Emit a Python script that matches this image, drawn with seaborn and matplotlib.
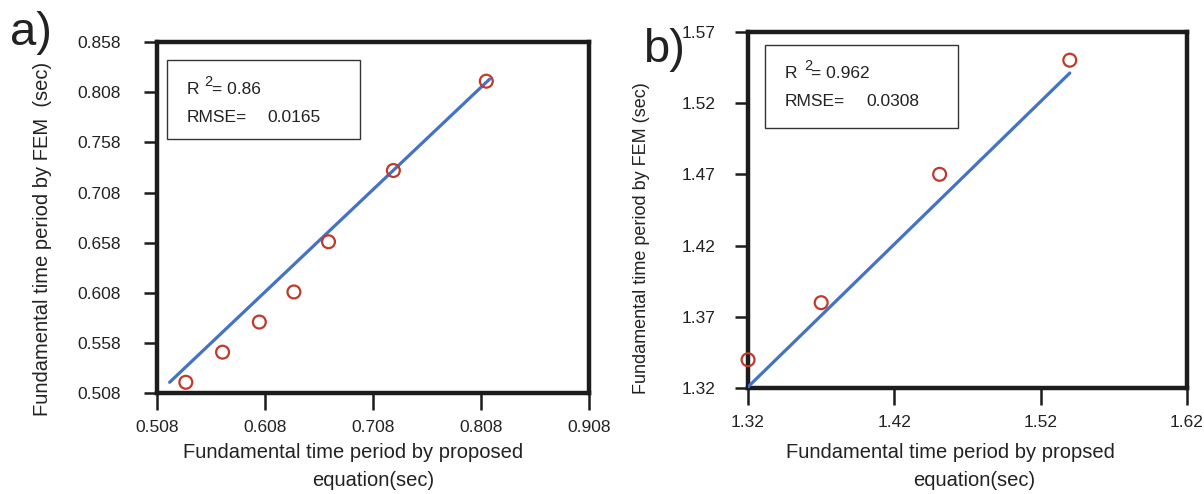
import numpy as np
import pandas as pd
import matplotlib
matplotlib.use("Agg")
import matplotlib.pyplot as plt
import seaborn as sns
from matplotlib.patches import Rectangle

# ---- panel a) values ----
a_proposed = [0.535, 0.569, 0.603, 0.635, 0.667, 0.727, 0.813]
a_fem = [0.519, 0.549, 0.579, 0.609, 0.659, 0.730, 0.819]
a_fit_x = [0.520, 0.816]
a_fit_y = [0.519, 0.821]
a_xticks = [0.508, 0.608, 0.708, 0.808, 0.908]
a_yticks = [0.508, 0.558, 0.608, 0.658, 0.708, 0.758, 0.808, 0.858]
a_xticklabels = ["0.508", "0.608", "0.708", "0.808", "0.908"]
a_yticklabels = ["0.508", "0.558", "0.608", "0.658", "0.708", "0.758", "0.808", "0.858"]
a_r2 = "0.86"
a_rmse = "0.0165"

# ---- panel b) values ----
b_proposed = [1.320, 1.370, 1.451, 1.540]
b_fem = [1.340, 1.380, 1.470, 1.550]
b_fit_x = [1.320, 1.540]
b_fit_y = [1.321, 1.541]
b_xticks = [1.32, 1.42, 1.52, 1.62]
b_yticks = [1.32, 1.37, 1.42, 1.47, 1.52, 1.57]
b_xticklabels = ["1.32", "1.42", "1.52", "1.62"]
b_yticklabels = ["1.32", "1.37", "1.42", "1.47", "1.52", "1.57"]
b_r2 = "0.962"
b_rmse = "0.0308"

RED = "#c0392b"
BLUE = "#4472c4"
INK = "#222222"

sns.set_style("white")
plt.rcParams["font.family"] = ["Liberation Sans", "DejaVu Sans"]

fig = plt.figure(figsize=(12.04, 4.94), dpi=100)
ax_a = fig.add_axes([0.1301, 0.2038, 0.3591, 0.7111])
ax_b = fig.add_axes([0.6213, 0.2140, 0.3644, 0.7219])


def draw_panel(ax, px, py, fx, fy):
    pts = pd.DataFrame({"proposed": px, "fem": py})
    fit = pd.DataFrame({"x": fx, "y": fy})
    sns.lineplot(data=fit, x="x", y="y", ax=ax, color=BLUE, linewidth=2.3,
                 estimator=None, sort=False, zorder=3)
    sns.scatterplot(data=pts, x="proposed", y="fem", ax=ax, marker="o", s=86,
                    facecolor="none", edgecolor=RED, linewidth=1.6,
                    clip_on=False, zorder=6)


def style_axes(ax, xt, xtl, yt, ytl, ypad):
    ax.set_xlim(xt[0], xt[-1])
    ax.set_ylim(yt[0], yt[-1])
    ax.set_xticks(xt)
    ax.set_xticklabels(xtl)
    ax.set_yticks(yt)
    ax.set_yticklabels(ytl)
    ax.tick_params(axis="x", bottom=True, direction="out", length=12, width=1.8,
                   pad=7.5, labelsize=12.5, labelcolor=INK, color="#1c1c1c")
    ax.tick_params(axis="y", left=True, direction="out", length=9.5, width=1.8,
                   pad=ypad, labelsize=12.5, labelcolor=INK, color="#1c1c1c")
    for sp in ax.spines.values():
        sp.set_visible(True)
        sp.set_linewidth(3.2)
        sp.set_color("#1c1c1c")
    ax.set_xlabel("")
    ax.set_ylabel("")


def stats_box(ax, box, r_pos, two_pos, eq_pos, rmse_y, val_x, r2, rmse):
    x0, y0, x1, y1 = box
    ax.add_patch(Rectangle((x0, y0), x1 - x0, y1 - y0, transform=ax.transAxes,
                           fill=False, lw=1.0, ec="#333333", zorder=4))
    kw = dict(transform=ax.transAxes, color=INK, va="baseline", ha="left")
    ax.text(r_pos[0], r_pos[1], "R", fontsize=12.5, **kw)
    ax.text(two_pos[0], two_pos[1], "2", fontsize=10.5, **kw)
    ax.text(eq_pos, r_pos[1], "= " + r2, fontsize=12.5, **kw)
    ax.text(r_pos[0], rmse_y, "RMSE=", fontsize=12.5, **kw)
    ax.text(val_x, rmse_y, rmse, fontsize=12.5, **kw)


# ---- panel a ----
draw_panel(ax_a, a_proposed, a_fem, a_fit_x, a_fit_y)
style_axes(ax_a, a_xticks, a_xticklabels, a_yticks, a_yticklabels, ypad=16)
stats_box(ax_a, (0.024, 0.724, 0.470, 0.949), (0.069, 0.853), (0.110, 0.876),
          0.129, 0.773, 0.257, a_r2, a_rmse)
ax_a.set_ylabel("Fundamental time period by FEM  (sec)", fontsize=14.5, color=INK)
ax_a.yaxis.set_label_coords(-0.242, 0.439)
ax_a.text(0.454, -0.184, "Fundamental time period by proposed", transform=ax_a.transAxes,
          ha="center", va="baseline", fontsize=14.5, color=INK)
ax_a.text(0.500, -0.264, "equation(sec)", transform=ax_a.transAxes,
          ha="center", va="baseline", fontsize=14.5, color=INK)

# ---- panel b ----
draw_panel(ax_b, b_proposed, b_fem, b_fit_x, b_fit_y)
style_axes(ax_b, b_xticks, b_xticklabels, b_yticks, b_yticklabels, ypad=14)
stats_box(ax_b, (0.039, 0.729, 0.479, 0.963), (0.084, 0.869), (0.127, 0.893),
          0.143, 0.792, 0.269, b_r2, b_rmse)
ax_b.set_ylabel("Fundamental time period by FEM (sec)", fontsize=13, color=INK)
ax_b.yaxis.set_label_coords(-0.223, 0.420)
ax_b.text(0.461, -0.1955, "Fundamental time period by propsed", transform=ax_b.transAxes,
          ha="center", va="baseline", fontsize=14.5, color=INK)
ax_b.text(0.515, -0.274, "equation(sec)", transform=ax_b.transAxes,
          ha="center", va="baseline", fontsize=14.5, color=INK)

# panel letters
fig.text(0.0083, 0.909, "a)", fontsize=34, color=INK, va="baseline", ha="left")
fig.text(0.534, 0.8745, "b)", fontsize=34, color=INK, va="baseline", ha="left")

fig.savefig("out.png", dpi=100)
